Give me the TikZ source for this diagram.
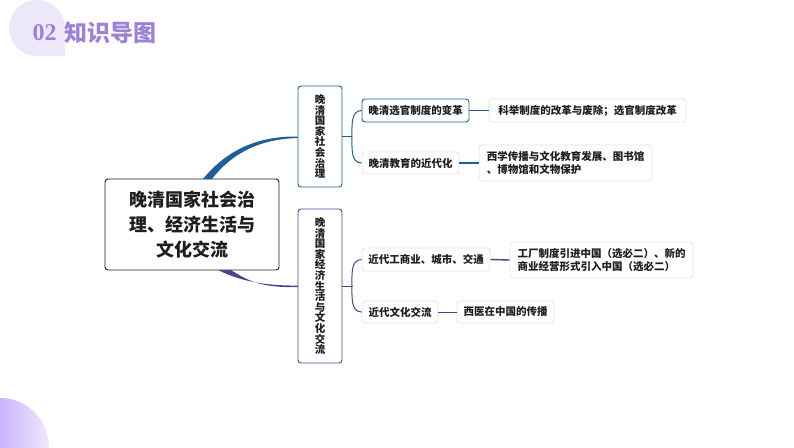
\documentclass[tikz,border=0pt]{standalone}
\usepackage{fontspec}
\usepackage{xcolor}
\newfontfamily\cjk{Noto Sans CJK SC}
\newfontfamily\numfont{Liberation Serif}
\definecolor{socblue}{HTML}{1F5F99}
\definecolor{ecopurple}{HTML}{4A4590}
\definecolor{titlepurple}{HTML}{9B82D8}
\definecolor{blobpurple}{HTML}{ECE8FA}
\definecolor{cornerdeep}{HTML}{C9B5FA}
\definecolor{cornerpale}{HTML}{EFE9FD}
\definecolor{leafgrey}{HTML}{E1E5EA}
\definecolor{inkdark}{HTML}{1E1E1E}
\newcommand{\sz}[2]{\fontsize{#1}{#2}\selectfont\lineskiplimit=-6pt\relax}

\begin{document}
\begin{tikzpicture}[x=1pt,y=-1pt,
	boxbase/.style={draw, rounded corners=3pt, fill=white, inner sep=0pt, align=left, text=inkdark, font=\cjk\bfseries\sz{10.5}{13.2}},
	rootbox/.style={boxbase, align=center, draw=inkdark, line width=0.9pt, font=\cjk\bfseries\sz{18}{25}, minimum width=174pt, minimum height=91pt},
	branchbox/.style={boxbase, align=center, line width=0.9pt, minimum width=44pt, font=\cjk\bfseries\sz{10.5}{10.6}},
	leafbox/.style={boxbase, draw=leafgrey, line width=0.8pt},
	soclink/.style={draw=socblue, line width=1pt},
	ecolink/.style={draw=ecopurple, line width=1pt}]

	\fill[white] (0,0) rectangle (794,447);
	\useasboundingbox (0,0) rectangle (794,447);

	\fill[blobpurple] (37,28) circle[radius=28];
	\fill[blobpurple] (37,28) rectangle (65,56);
	\begin{scope}
		\clip (0,447) circle[radius=49];
		\shade[left color=cornerdeep, right color=cornerpale] (0,398) rectangle (49,447);
	\end{scope}

	\node[font=\numfont\bfseries\sz{24}{24}, text=titlepurple, inner sep=0pt] (num) at (44.5,33) {02};
	\node[font=\cjk\bfseries\sz{23}{23}, text=titlepurple, inner sep=0pt] (title) at (110.5,33) {知识导图};

	\node[rootbox] (root) at (192,224.5) {晚清国家社会治\\理、经济生活与\\文化交流};
	\node[branchbox, draw=socblue, minimum height=101pt] (soc) at (320,136.5) {晚\\清\\国\\家\\社\\会\\治\\理};
	\node[branchbox, draw=ecopurple, minimum height=154pt] (eco) at (320,286) {晚\\清\\国\\家\\经\\济\\生\\活\\与\\文\\化\\交\\流};

	\node[boxbase, draw=socblue, line width=0.9pt, minimum width=107pt, minimum height=23pt] (guan) at (415.5,110.5) {晚清选官制度的变革};
	\node[leafbox, minimum width=97pt, minimum height=22pt] (jiao) at (410.5,163) {晚清教育的近代化};
	\node[leafbox, minimum width=197pt, minimum height=23pt] (keju) at (587.5,110.5) {科举制度的改革与废除；选官制度改革};
	\node[leafbox, minimum width=173pt, minimum height=36pt] (xixue) at (565.5,163) {西学传播与文化教育发展、图书馆\\、博物馆和文物保护};

	\node[leafbox, minimum width=128pt, minimum height=23pt] (gong) at (426,259.5) {近代工商业、城市、交通};
	\node[leafbox, minimum width=76pt, minimum height=22pt] (wen) at (400,312) {近代文化交流};
	\node[leafbox, minimum width=183pt, minimum height=36pt] (chang) at (601.5,260) {工厂制度引进中国（选必二）、新的\\商业经营形式引入中国（选必二）};
	\node[leafbox, minimum width=97pt, minimum height=22pt] (xiyi) at (505.5,312) {西医在中国的传播};

	\coordinate (socroota) at (203,179);
	\coordinate (socrootb) at (212,179);
	\coordinate (ecoroota) at (218,270);
	\coordinate (ecorootb) at (231,270);
	\coordinate (socfork) at (352,136.5);
	\coordinate (ecofork) at (352,286);

	\fill[socblue] (socroota) .. controls (225,152) and (255,136) .. (soc.west) -- (298,138) .. controls (260,139) and (232,153) .. (socrootb) -- cycle;
	\fill[ecopurple] (ecoroota) .. controls (238,280) and (262,286) .. (298,285.5) -- (298,287) .. controls (262,288) and (248,281) .. (ecorootb) -- cycle;

	\draw[soclink] (soc.east) -- (socfork);
	\draw[soclink] (socfork) to[out=90, in=180] (guan.west);
	\draw[soclink] (socfork) to[out=-90, in=180] (jiao.west);
	\draw[ecolink] (eco.east) -- (ecofork);
	\draw[ecolink] (ecofork) to[out=90, in=180] (gong.west);
	\draw[ecolink] (ecofork) to[out=-90, in=180] (wen.west);

	\draw[soclink] (guan.east) -- (keju.west);
	\draw[soclink, line width=1.4pt] (jiao.east) -- (xixue.west);
	\draw[ecolink, line width=1.4pt] (gong.east) -- (chang.west);
	\draw[ecolink] (wen.east) -- (xiyi.west);
\end{tikzpicture}
\end{document}
